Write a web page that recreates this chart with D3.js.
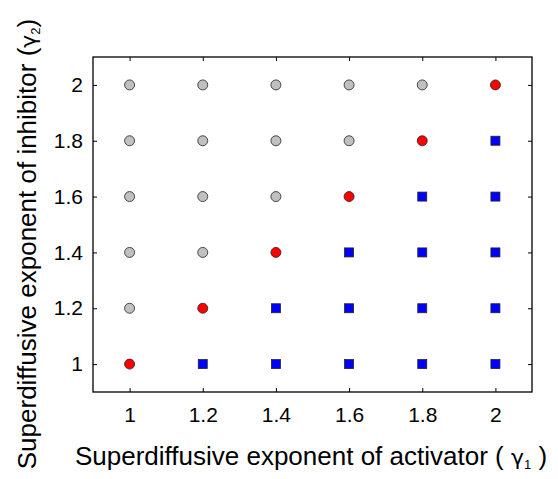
<!DOCTYPE html>
<html>
<head>
<meta charset="utf-8">
<script src="https://cdn.jsdelivr.net/npm/d3@7"></script>
<style>
  body { margin: 0; background: #fff; }
  text { font-family: "Liberation Sans", Arial, sans-serif; }
</style>
</head>
<body>
<div id="chart"></div>
<script>
var gamma1 = [1, 1.2, 1.4, 1.6, 1.8, 2];
var gamma2 = [2, 1.8, 1.6, 1.4, 1.2, 1];
// g = grey circle, r = red circle, b = blue square (rows follow gamma2)
var outcome = [
    ["g", "g", "g", "g", "g", "r"],
    ["g", "g", "g", "g", "r", "b"],
    ["g", "g", "g", "r", "b", "b"],
    ["g", "g", "r", "b", "b", "b"],
    ["g", "r", "b", "b", "b", "b"],
    ["r", "b", "b", "b", "b", "b"]
];
var tickVals = [1, 1.2, 1.4, 1.6, 1.8, 2];

var margin = {top: 57, right: 26, bottom: 87, left: 93}
    , width = 558 - margin.left - margin.right
    , height = 479 - margin.top - margin.bottom;

var x = d3.scaleLinear().domain([0.9, 2.1]).range([0, width]);
var y = d3.scaleLinear().domain([0.9, 2.1]).range([height, 0]);

var svg = d3.select('#chart').append('svg')
    .attr('width', 558)
    .attr('height', 479);

var main = svg.append('g')
    .attr('transform', 'translate(' + margin.left + ',' + margin.top + ')');

var fmt = function (d) { return d3.format("~g")(d); };

// axes with inward ticks, mirrored on top and right
main.append("g")
    .attr("transform", "translate(0," + height + ")")
    .call(d3.axisBottom(x).tickValues(tickVals).tickFormat(fmt).tickSizeInner(-4).tickSizeOuter(0).tickPadding(15))
    .call(function (g) { g.selectAll("text").style("font-size", "21px").attr("fill", "#000"); });
main.append("g")
    .call(d3.axisLeft(y).tickValues(tickVals).tickFormat(fmt).tickSizeInner(-4).tickSizeOuter(0).tickPadding(10))
    .call(function (g) { g.selectAll("text").style("font-size", "21px").attr("fill", "#000"); });
main.append("g")
    .call(d3.axisTop(x).tickValues(tickVals).tickFormat("").tickSizeInner(-4).tickSizeOuter(0));
main.append("g")
    .attr("transform", "translate(" + width + ",0)")
    .call(d3.axisRight(y).tickValues(tickVals).tickFormat("").tickSizeInner(-4).tickSizeOuter(0));

main.selectAll(".domain").remove();
main.selectAll(".tick line").attr("stroke", "#000").attr("stroke-width", 1);

main.append("rect")
    .attr("width", width)
    .attr("height", height)
    .attr("fill", "none")
    .attr("stroke", "#000")
    .attr("stroke-width", 1.3);

var points = [];
gamma2.forEach(function (g2, i) {
    gamma1.forEach(function (g1, j) {
        points.push({g1: g1, g2: g2, k: outcome[i][j]});
    });
});

var colors = {g: "#c0c0c0", r: "#ff0000", b: "#0000ff"};

main.selectAll("circle.pt")
    .data(points.filter(function (d) { return d.k !== "b"; }))
    .enter().append("circle")
    .attr("class", "pt")
    .attr("cx", function (d) { return x(d.g1); })
    .attr("cy", function (d) { return y(d.g2); })
    .attr("r", 5)
    .attr("fill", function (d) { return colors[d.k]; })
    .attr("stroke", "#222")
    .attr("stroke-width", 0.8);

main.selectAll("rect.pt")
    .data(points.filter(function (d) { return d.k === "b"; }))
    .enter().append("rect")
    .attr("class", "pt")
    .attr("x", function (d) { return x(d.g1) - 4.5; })
    .attr("y", function (d) { return y(d.g2) - 4.5; })
    .attr("width", 9)
    .attr("height", 9)
    .attr("fill", colors.b)
    .attr("stroke", "#222")
    .attr("stroke-width", 0.8);

// axis labels
var xl = svg.append("text")
    .attr("x", 311)
    .attr("y", 465)
    .attr("text-anchor", "middle")
    .style("font-size", "26px")
    .attr("fill", "#000");
xl.append("tspan").text("Superdiffusive exponent of activator (  ");
xl.append("tspan").style("font-family", "'DejaVu Sans', sans-serif").style("font-size", "22px").text("γ");
xl.append("tspan").style("font-size", "13px").attr("dy", 4).text("1");
xl.append("tspan").attr("dy", -4).text(" )");

var yl = svg.append("text")
    .attr("transform", "translate(36,244) rotate(-90)")
    .attr("text-anchor", "middle")
    .style("font-size", "26px")
    .attr("fill", "#000");
yl.append("tspan").text("Superdiffusive exponent of inhibitor (");
yl.append("tspan").style("font-family", "'DejaVu Sans', sans-serif").style("font-size", "22px").text("γ");
yl.append("tspan").style("font-size", "13px").attr("dy", 4).text("2");
yl.append("tspan").attr("dy", -4).text(")");
</script>
</body>
</html>
